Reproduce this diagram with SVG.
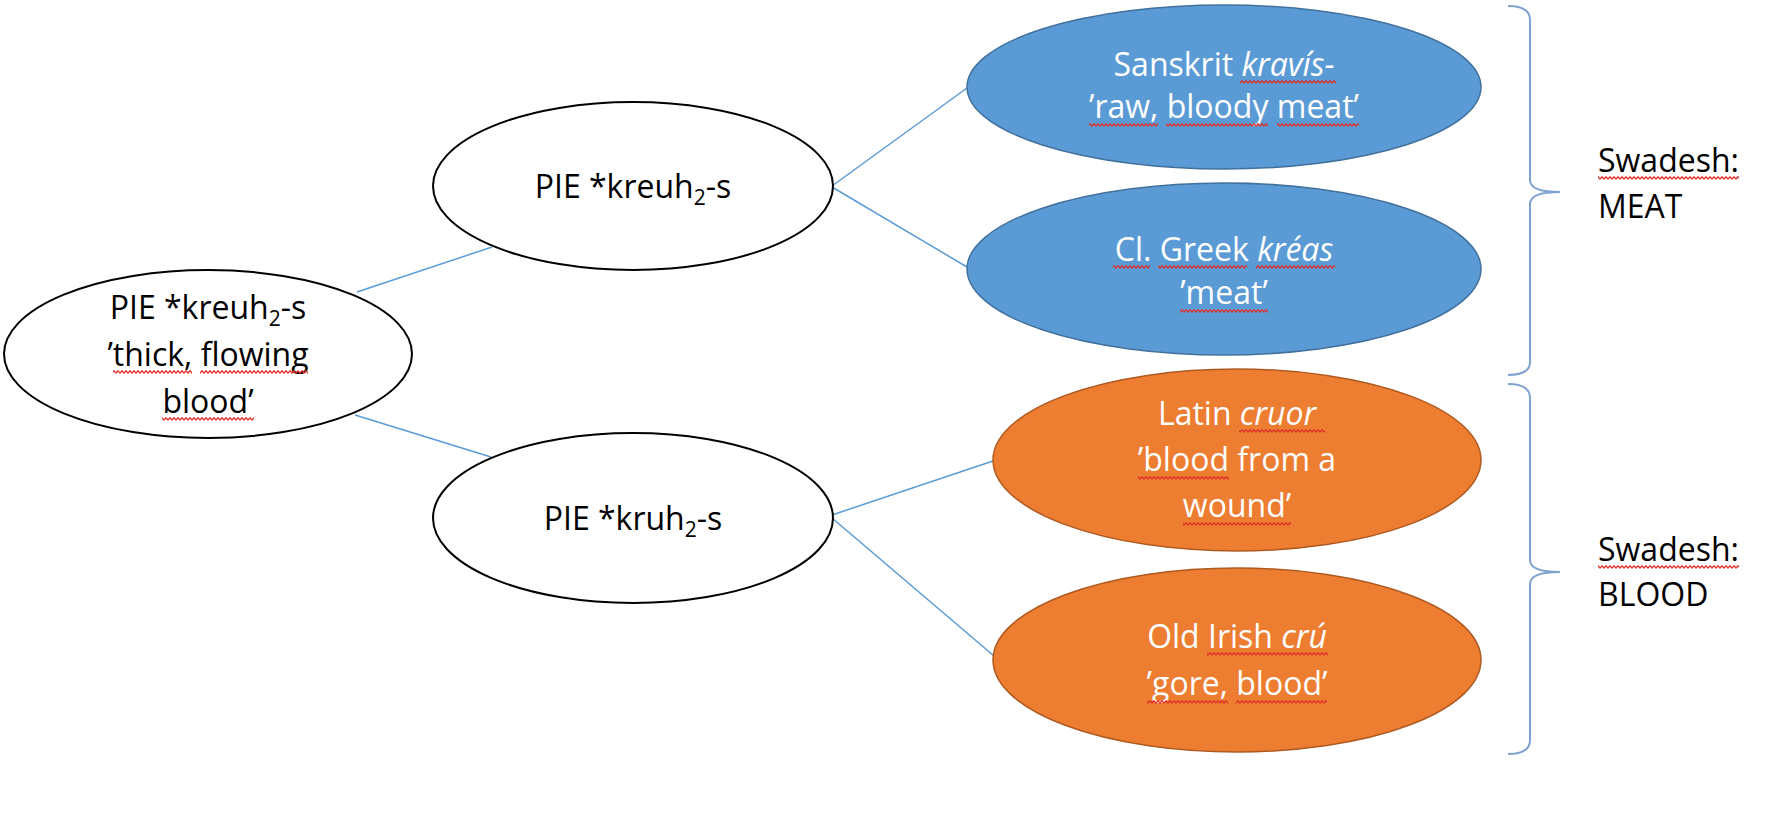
<svg xmlns="http://www.w3.org/2000/svg" width="1775" height="835" viewBox="0 0 1775 835">
<defs>
  <pattern id="zig" width="4" height="4" patternUnits="userSpaceOnUse">
    <path d="M-1 4 L2 0.8 L5 4" fill="none" stroke="#E0302A" stroke-width="1.3"/>
  </pattern>
</defs>
<style>
  text { font-family: "Open Sans", "Noto Sans", "DejaVu Sans", sans-serif; font-size: 32px; text-anchor: middle; }
  .dark { fill: #000; }
  .light { fill: #fff; }
  .plain { fill: #fff; stroke: #000; stroke-width: 2; }
  .blue { fill: #5B9BD5; stroke: #41719C; stroke-width: 1.5; }
  .orange { fill: #ED7D31; stroke: #AE5A21; stroke-width: 1.5; }
  .conn { stroke: #5B9BD5; stroke-width: 1.5; fill: none; }
  .brace { stroke: #7FA3CF; stroke-width: 2; fill: none; }
  .it { font-style: italic; }
  .sub { font-size: 21px; }
  .sq { fill: url(#zig); }
  .lbl { text-anchor: start; }
</style>

<g id="connectors">
  <line class="conn" x1="357" y1="292" x2="492" y2="247"/>
  <line class="conn" x1="355" y1="415" x2="491" y2="457"/>
  <line class="conn" x1="832" y1="186" x2="967" y2="88"/>
  <line class="conn" x1="832" y1="187" x2="967" y2="267"/>
  <line class="conn" x1="832" y1="515" x2="993" y2="461"/>
  <line class="conn" x1="832" y1="518" x2="994" y2="656"/>
</g>

<g id="root">
  <ellipse class="plain" cx="208" cy="354" rx="204" ry="84"/>
  <text class="dark" x="208" y="319">PIE *kreuh<tspan class="sub" dy="7">2</tspan><tspan dy="-7">-s</tspan></text>
  <text class="dark" x="208" y="366">’thick, flowing</text>
  <text class="dark" x="208" y="413">blood’</text>
  <rect class="sq" x="113" y="0" width="79" height="4" transform="translate(0 370)"/>
  <rect class="sq" x="200" y="0" width="108" height="4" transform="translate(0 370)"/>
  <rect class="sq" x="162" y="0" width="92" height="4" transform="translate(0 417)"/>
</g>

<g id="pie-kreuh">
  <ellipse class="plain" cx="633" cy="186" rx="200" ry="84"/>
  <text class="dark" x="633" y="198">PIE *kreuh<tspan class="sub" dy="7">2</tspan><tspan dy="-7">-s</tspan></text>
</g>

<g id="pie-kruh">
  <ellipse class="plain" cx="633" cy="518" rx="200" ry="85"/>
  <text class="dark" x="633" y="530">PIE *kruh<tspan class="sub" dy="7">2</tspan><tspan dy="-7">-s</tspan></text>
</g>

<g id="sanskrit">
  <ellipse class="blue" cx="1224" cy="87" rx="257" ry="82"/>
  <text class="light" x="1224" y="76">Sanskrit <tspan class="it">kravís-</tspan></text>
  <text class="light" x="1224" y="118">’raw, bloody meat’</text>
  <rect class="sq" x="1240" y="0" width="96" height="4" transform="translate(0 80)"/>
  <rect class="sq" x="1089" y="0" width="69" height="4" transform="translate(0 123)"/>
  <rect class="sq" x="1166" y="0" width="102" height="4" transform="translate(0 123)"/>
  <rect class="sq" x="1277" y="0" width="82" height="4" transform="translate(0 123)"/>
</g>

<g id="greek">
  <ellipse class="blue" cx="1224" cy="269" rx="257" ry="86"/>
  <text class="light" x="1224" y="261">Cl. Greek <tspan class="it">kréas</tspan></text>
  <text class="light" x="1224" y="304">’meat’</text>
  <rect class="sq" x="1113" y="0" width="37" height="4" transform="translate(0 265)"/>
  <rect class="sq" x="1158" y="0" width="89" height="4" transform="translate(0 265)"/>
  <rect class="sq" x="1256" y="0" width="79" height="4" transform="translate(0 265)"/>
  <rect class="sq" x="1180" y="0" width="88" height="4" transform="translate(0 309)"/>
</g>

<g id="latin">
  <ellipse class="orange" cx="1237" cy="460" rx="244" ry="91"/>
  <text class="light" x="1237" y="425">Latin <tspan class="it">cruor</tspan></text>
  <text class="light" x="1237" y="471">’blood from a</text>
  <text class="light" x="1237" y="517">wound’</text>
  <rect class="sq" x="1239" y="0" width="86" height="4" transform="translate(0 429)"/>
  <rect class="sq" x="1138" y="0" width="91" height="4" transform="translate(0 476)"/>
  <rect class="sq" x="1183" y="0" width="108" height="4" transform="translate(0 522)"/>
</g>

<g id="old-irish">
  <ellipse class="orange" cx="1237" cy="660" rx="244" ry="92"/>
  <text class="light" x="1237" y="648">Old Irish <tspan class="it">crú</tspan></text>
  <text class="light" x="1237" y="695">’gore, blood’</text>
  <rect class="sq" x="1207" y="0" width="121" height="4" transform="translate(0 652)"/>
  <rect class="sq" x="1147" y="0" width="81" height="4" transform="translate(0 700)"/>
  <rect class="sq" x="1236" y="0" width="91" height="4" transform="translate(0 700)"/>
</g>

<g id="meat-group">
  <path class="brace" d="M1508 6 Q1530 6 1530 20 L1530 180 Q1530 192 1560 192 Q1530 192 1530 204 L1530 362 Q1530 375 1508 375"/>
  <text class="dark lbl" x="1598" y="172">Swadesh:</text>
  <text class="dark lbl" x="1598" y="218">MEAT</text>
  <rect class="sq" x="1598" y="0" width="141" height="4" transform="translate(0 176)"/>
</g>

<g id="blood-group">
  <path class="brace" d="M1508 384 Q1530 384 1530 398 L1530 560 Q1530 572 1560 572 Q1530 572 1530 584 L1530 740 Q1530 754 1508 754"/>
  <text class="dark lbl" x="1598" y="561">Swadesh:</text>
  <text class="dark lbl" x="1598" y="606">BLOOD</text>
  <rect class="sq" x="1598" y="0" width="141" height="4" transform="translate(0 565)"/>
</g>
</svg>
